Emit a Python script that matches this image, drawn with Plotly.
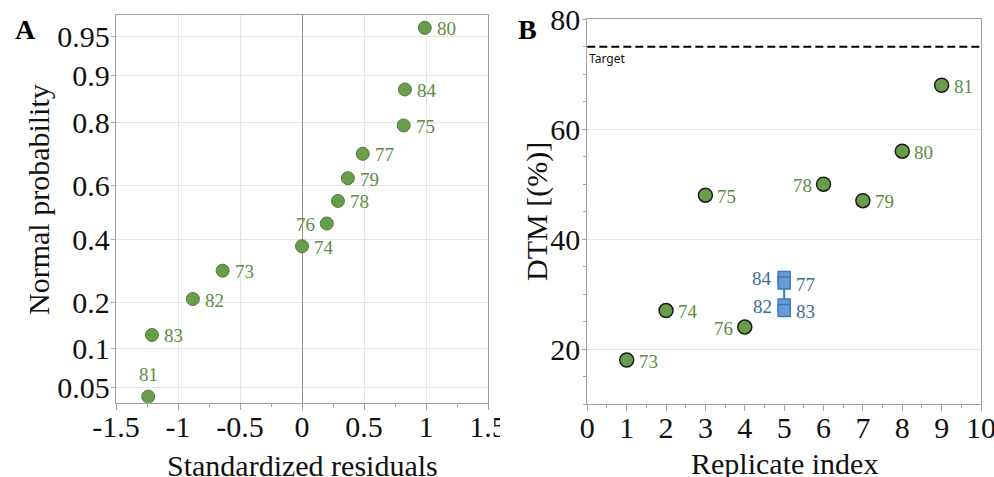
import plotly.graph_objects as go
from statistics import NormalDist

# ---------------- data ----------------
# Panel A: normal probability plot of standardized residuals
a_labels = ["81", "83", "82", "73", "74", "76", "78", "79", "77", "75", "84", "80"]
a_resid = [-1.24, -1.21, -0.88, -0.64, 0.0, 0.20, 0.29, 0.37, 0.49, 0.82, 0.83, 0.99]
a_prob = [0.042, 0.125, 0.208, 0.292, 0.375, 0.458, 0.542, 0.625, 0.708, 0.792, 0.875, 0.958]
a_labelpos = ["top", "right", "right", "right", "right", "left",
              "right", "right", "right", "right", "right", "right"]
a_prob_ticks = [0.05, 0.1, 0.2, 0.4, 0.6, 0.8, 0.9, 0.95]
a_prob_ticktext = ["0.05", "0.1", "0.2", "0.4", "0.6", "0.8", "0.9", "0.95"]
a_x_ticks = [-1.5, -1, -0.5, 0, 0.5, 1, 1.5]
a_x_ticktext = ["-1.5", "-1", "-0.5", "0", "0.5", "1", "1.5"]

# Panel B: DTM per replicate
b_green_idx = [1, 2, 3, 4, 6, 7, 8, 9]
b_green_dtm = [18, 27, 48, 24, 50, 47, 56, 68]
b_green_labels = ["73", "74", "75", "76", "78", "79", "80", "81"]
b_green_labelpos = ["right", "right", "right", "left", "left", "right", "right", "right"]
b_blue_idx = [5, 5, 5, 5]
b_blue_dtm = [33, 32, 28, 27]
b_blue_labels = ["84", "77", "82", "83"]
b_blue_labelpos = ["left", "right", "left", "right"]
target = 75

# ---------------- styling ----------------
W, H = 994, 477
SERIF = "Liberation Serif, Times New Roman, serif"
GREEN = "#6a9d4b"
GREEN_EDGE = "#4e7e36"
GREEN_TXT = "#5b8c42"
BLUE = "#6b9bd2"
BLUE_EDGE = "#3b78bf"
BLUE_TXT = "#3d6a9c"
FRAME = "#a3a3a3"
GRID = "#e4e4e4"

nd = NormalDist()
zf = nd.inv_cdf


def px(x):
    return x / W


def py(y):
    return 1 - y / H


fig = go.Figure()

# Panel A points
fig.add_trace(go.Scatter(
    x=a_resid, y=[zf(p) for p in a_prob], mode="markers",
    marker=dict(size=13, color=GREEN, line=dict(color=GREEN_EDGE, width=1)),
    xaxis="x", yaxis="y", showlegend=False, hoverinfo="skip"))

# Panel B connecting line for blue group
fig.add_trace(go.Scatter(
    x=[b_blue_idx[0], b_blue_idx[-1]], y=[b_blue_dtm[0], b_blue_dtm[-1]],
    mode="lines", line=dict(color=BLUE_EDGE, width=2),
    xaxis="x2", yaxis="y2", showlegend=False, hoverinfo="skip"))
fig.add_trace(go.Scatter(
    x=b_blue_idx, y=b_blue_dtm, mode="markers",
    marker=dict(symbol="square", size=12, color=BLUE, line=dict(color=BLUE_EDGE, width=1.5)),
    xaxis="x2", yaxis="y2", showlegend=False, hoverinfo="skip"))
fig.add_trace(go.Scatter(
    x=b_green_idx, y=b_green_dtm, mode="markers",
    marker=dict(size=14, color=GREEN, line=dict(color="#1a1a1a", width=1.5)),
    xaxis="x2", yaxis="y2", showlegend=False, hoverinfo="skip"))

annotations = []


def point_label(x, y, text, pos, xr, yr, color):
    d = dict(x=x, y=y, xref=xr, yref=yr, text=text, showarrow=False,
             font=dict(family=SERIF, size=19, color=color))
    if pos == "right":
        d.update(xanchor="left", yanchor="middle", xshift=10, yshift=-1)
    elif pos == "left":
        d.update(xanchor="right", yanchor="middle", xshift=-10, yshift=-1)
    else:
        d.update(xanchor="center", yanchor="bottom", yshift=10)
    annotations.append(d)


for x, p, t, pos in zip(a_resid, a_prob, a_labels, a_labelpos):
    point_label(x, zf(p), t, pos, "x", "y", GREEN_TXT)
for x, y, t, pos in zip(b_green_idx, b_green_dtm, b_green_labels, b_green_labelpos):
    point_label(x, y, t, pos, "x2", "y2", GREEN_TXT)
for x, y, t, pos in zip(b_blue_idx, b_blue_dtm, b_blue_labels, b_blue_labelpos):
    point_label(x, y, t, pos, "x2", "y2", BLUE_TXT)

# Target text
annotations.append(dict(x=0, y=target, xref="x2 domain", yref="y2", text="Target",
                        showarrow=False, xanchor="left", yanchor="top", yshift=-1,
                        font=dict(family="Noto Sans, Open Sans, sans-serif", size=12, color="#111")))

# axis titles and panel letters
annotations += [
    dict(x=px(302), y=py(465), xref="paper", yref="paper", text="Standardized residuals",
         showarrow=False, xanchor="center", yanchor="middle",
         font=dict(family=SERIF, size=30, color="#111")),
    dict(x=px(38), y=py(200), xref="paper", yref="paper", text="Normal probability",
         showarrow=False, textangle=-90, xanchor="center", yanchor="middle",
         font=dict(family=SERIF, size=30, color="#111")),
    dict(x=px(784), y=py(463), xref="paper", yref="paper", text="Replicate index",
         showarrow=False, xanchor="center", yanchor="middle",
         font=dict(family=SERIF, size=30, color="#111")),
    dict(x=px(537), y=py(212), xref="paper", yref="paper", text="DTM [(%)]",
         showarrow=False, textangle=-90, xanchor="center", yanchor="middle",
         font=dict(family=SERIF, size=30, color="#111")),
    dict(x=px(25), y=py(30), xref="paper", yref="paper", text="<b>A</b>",
         showarrow=False, xanchor="center", yanchor="middle",
         font=dict(family=SERIF, size=28, color="#000")),
    dict(x=px(527), y=py(30), xref="paper", yref="paper", text="<b>B</b>",
         showarrow=False, xanchor="center", yanchor="middle",
         font=dict(family=SERIF, size=28, color="#000")),
]

tickfont = dict(family=SERIF, size=30, color="#111")
common = dict(showline=True, linecolor=FRAME, linewidth=1.3, mirror=True,
              ticks="outside", tickcolor=FRAME, tickwidth=1, tickfont=tickfont,
              automargin=False, fixedrange=True, ticklabeloverflow="allow")

fig.update_layout(
    width=W, height=H, margin=dict(l=0, r=0, t=0, b=0),
    paper_bgcolor="white", plot_bgcolor="white",
    xaxis=dict(domain=[px(116), px(488)], anchor="y", range=[-1.5, 1.5],
               tickvals=a_x_ticks, ticktext=a_x_ticktext, ticklen=6,
               showgrid=True, gridcolor=GRID, gridwidth=1,
               zeroline=True, zerolinecolor="#8f8f8f", zerolinewidth=1.3,
               minor=dict(dtick=0.25, ticks="outside", ticklen=3, tickcolor=FRAME, showgrid=False),
               ticklabelstandoff=-9, **common),
    yaxis=dict(domain=[py(402.7), py(15)], anchor="x", range=[-1.785, 1.848],
               tickvals=[zf(p) for p in a_prob_ticks], ticktext=a_prob_ticktext, ticklen=4,
               showgrid=True, gridcolor=GRID, gridwidth=1, zeroline=False,
               ticklabelstandoff=-5, **common),
    xaxis2=dict(domain=[px(587.3), px(981)], anchor="y2", range=[0, 10],
                dtick=1, ticklen=6, showgrid=False, zeroline=False,
                minor=dict(dtick=0.5, ticks="outside", ticklen=3, tickcolor=FRAME, showgrid=False),
                ticklabelstandoff=-9, **common),
    yaxis2=dict(domain=[py(404), py(19.3)], anchor="x2", range=[10, 80],
                tickvals=[20, 40, 60, 80], ticklen=4,
                showgrid=True, gridcolor=GRID, gridwidth=1, zeroline=False,
                minor=dict(dtick=5, ticks="outside", ticklen=3, tickcolor=FRAME, showgrid=False),
                ticklabelstandoff=-4, **common),
    annotations=annotations,
    shapes=[
        dict(type="line", xref="x2 domain", yref="y2", x0=0, x1=1, y0=target, y1=target,
             line=dict(color="#000", width=2, dash="8px,4px"), layer="above"),
        # panel A was cropped at its right edge in the original figure
        dict(type="rect", xref="paper", yref="paper", x0=px(500), x1=px(560),
             y0=py(450), y1=py(410), fillcolor="white", line=dict(width=0), layer="above"),
    ],
)

fig.write_html("out.html", config={"displayModeBar": False},
               post_script="document.body.style.margin='0';")
